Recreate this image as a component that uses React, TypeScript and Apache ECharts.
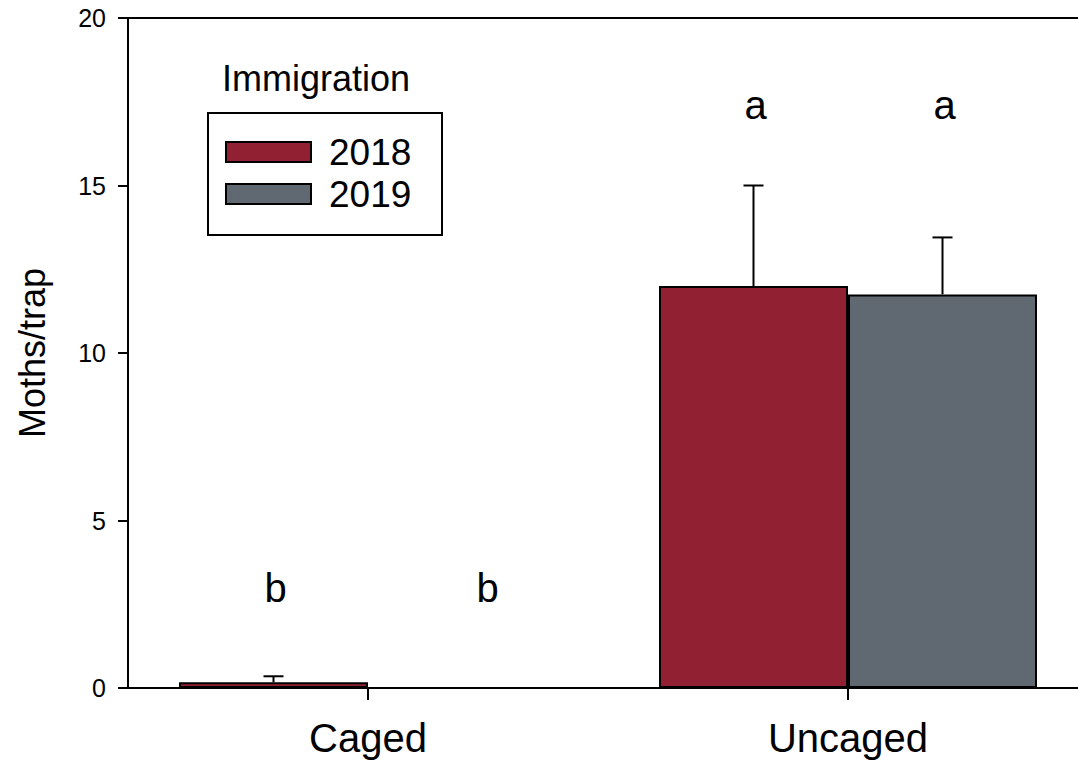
import React, { useEffect, useRef } from "react";
import * as echarts from "echarts";

// Moths caught per trap, by treatment and year
const CATEGORIES = ["Caged", "Uncaged"];
const YEARS = ["2018", "2019"];
const MEANS_2018 = [0.17, 12.0];
const MEANS_2019 = [0, 11.75];
const SE_2018 = [0.18, 3.0];
const SE_2019 = [0, 1.7];
// significance letters per bar, and the height (in moths/trap) at which they sit
const LETTERS_2018 = ["b", "a"];
const LETTERS_2019 = ["b", "a"];
const LETTER_HEIGHT = [3, 17.4];
const Y_MIN = 0;
const Y_MAX = 20;
const Y_STEP = 5;
const LEGEND_TITLE = "Immigration";

const COLORS = ["#912032", "#606972"];
const FONT = "'Liberation Sans', Arial, Helvetica, sans-serif";
const BAR_W = 189;

export default function App() {
  const ref = useRef<HTMLDivElement>(null);

  useEffect(() => {
    if (!ref.current) return;
    const chart = echarts.init(ref.current, null, { renderer: "svg" });

    const means = [MEANS_2018, MEANS_2019];
    const ses = [SE_2018, SE_2019];
    const letters = [LETTERS_2018, LETTERS_2019];

    const errData: number[][] = [];
    const letterData: number[][] = [];
    const letterText: string[] = [];
    for (let s = 0; s < YEARS.length; s++) {
      for (let c = 0; c < CATEGORIES.length; c++) {
        errData.push([c, means[s][c], ses[s][c], s]);
        letterData.push([c, LETTER_HEIGHT[c], s]);
        letterText.push(letters[s][c]);
      }
    }

    const barOffset = (s: number) => (s === 0 ? -BAR_W / 2 : BAR_W / 2);

    chart.setOption({
      animation: false,
      backgroundColor: "#ffffff",
      // the plot frame runs on past the right edge of the visible page
      grid: { left: 128, top: 18, right: 0, bottom: 80, containLabel: false },
      xAxis: [
        {
          type: "category",
          data: CATEGORIES,
          position: "bottom",
          axisLine: { show: true, lineStyle: { color: "#000", width: 2 } },
          axisTick: { show: true, alignWithLabel: true, length: 12, lineStyle: { color: "#000", width: 2 } },
          axisLabel: { color: "#000", fontSize: 40, fontFamily: FONT, margin: 30 },
          splitLine: { show: false },
        },
        {
          type: "category",
          data: CATEGORIES,
          position: "top",
          axisLine: { show: true, lineStyle: { color: "#000", width: 2 } },
          axisTick: { show: false },
          axisLabel: { show: false },
          splitLine: { show: false },
        },
      ],
      yAxis: {
        type: "value",
        min: Y_MIN,
        max: Y_MAX,
        interval: Y_STEP,
        name: "Moths/trap",
        nameLocation: "middle",
        nameGap: 78,
        nameRotate: 90,
        nameTextStyle: { color: "#000", fontSize: 36, fontFamily: FONT },
        axisLine: { show: true, lineStyle: { color: "#000", width: 2 } },
        axisTick: { show: true, length: 10, lineStyle: { color: "#000", width: 2 } },
        axisLabel: { color: "#000", fontSize: 25, fontFamily: FONT, margin: 22 },
        splitLine: { show: false },
      },
      series: [
        ...YEARS.map((year, s) => ({
          name: year,
          type: "bar",
          data: means[s],
          barWidth: BAR_W,
          barGap: "0%",
          itemStyle: { color: COLORS[s], borderColor: "#000", borderWidth: 2 },
          z: 2,
        })),
        {
          type: "custom",
          name: "error",
          data: errData,
          encode: { x: 0, y: 1 },
          z: 3,
          renderItem: (_params: any, api: any) => {
            const c = api.value(0);
            const m = api.value(1);
            const e = api.value(2);
            const s = api.value(3);
            if (!e) return null;
            const base = api.coord([c, m]);
            const top = api.coord([c, m + e]);
            const x = base[0] + barOffset(s);
            const half = 10;
            return {
              type: "group",
              children: [
                {
                  type: "line",
                  shape: { x1: x, y1: base[1], x2: x, y2: top[1] },
                  style: { stroke: "#000", lineWidth: 2 },
                },
                {
                  type: "line",
                  shape: { x1: x - half, y1: top[1], x2: x + half, y2: top[1] },
                  style: { stroke: "#000", lineWidth: 2 },
                },
              ],
            };
          },
        },
        {
          type: "custom",
          name: "letters",
          data: letterData,
          encode: { x: 0, y: 1 },
          z: 4,
          renderItem: (params: any, api: any) => {
            const c = api.value(0);
            const h = api.value(1);
            const s = api.value(2);
            const p = api.coord([c, h]);
            // the caged 2019 letter sits a little right of its (empty) bar
            const nudge = c === 0 && s === 1 ? 25 : 2;
            return {
              type: "text",
              style: {
                text: letterText[params.dataIndex],
                x: p[0] + barOffset(s) + nudge,
                y: p[1],
                align: "center",
                verticalAlign: "middle",
                fontSize: 40,
                fontFamily: FONT,
                fill: "#000",
              },
            };
          },
        },
      ],
      graphic: [
        {
          type: "text",
          left: 222,
          top: 60,
          style: { text: LEGEND_TITLE, fontSize: 36, fontFamily: FONT, fill: "#000" },
        },
        {
          type: "rect",
          shape: { x: 208, y: 113, width: 234, height: 122 },
          style: { fill: "#fff", stroke: "#000", lineWidth: 2 },
          z: 10,
        },
        ...YEARS.flatMap((year, s) => [
          {
            type: "rect",
            shape: { x: 226, y: 142 + s * 42, width: 85, height: 20 },
            style: { fill: COLORS[s], stroke: "#000", lineWidth: 2 },
            z: 11,
          },
          {
            type: "text",
            x: 329,
            y: 152 + s * 42,
            style: {
              text: year,
              fontSize: 37,
              fontFamily: FONT,
              fill: "#000",
              verticalAlign: "middle",
            },
            z: 11,
          },
        ]),
      ],
    });

    return () => chart.dispose();
  }, []);

  return (
    <div
      style={{
        position: "fixed",
        left: 0,
        top: 0,
        width: 1078,
        height: 768,
        overflow: "hidden",
        background: "#fff",
      }}
    >
      <div ref={ref} style={{ width: 1088, height: 768 }} />
    </div>
  );
}
